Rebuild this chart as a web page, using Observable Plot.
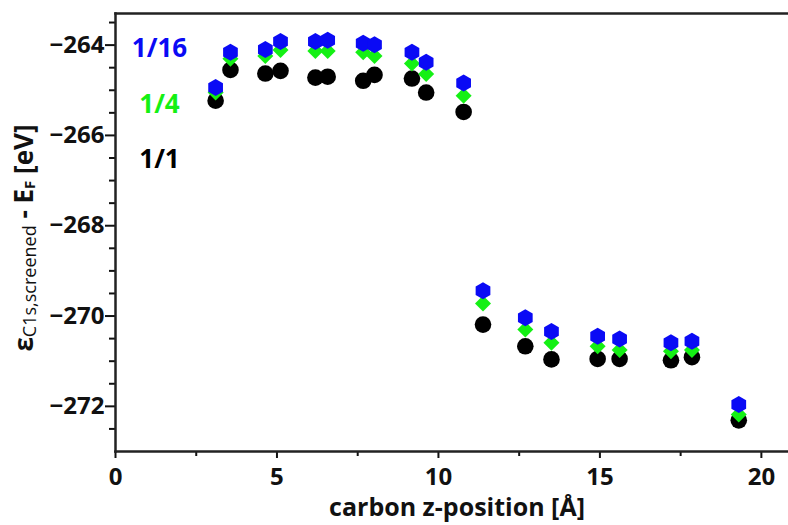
<!DOCTYPE html>
<html>
<head>
<meta charset="utf-8">
<script src="https://cdn.jsdelivr.net/npm/d3@7"></script>
<script src="https://cdn.jsdelivr.net/npm/@observablehq/plot@0.6"></script>
<style>
  html, body { margin: 0; padding: 0; background: #fff; }
  #chart { width: 788px; height: 525px; }
</style>
</head>
<body>
<div id="chart"></div>
<script>
// carbon z-position [Å]
const zPos = [3.10, 3.56, 4.64, 5.11, 6.19, 6.57, 7.67, 8.02, 9.18, 9.62, 10.78, 11.38, 12.69, 13.50, 14.93, 15.61, 17.20, 17.85, 19.30];
// screened C1s energies [eV] for the three coverages
const e11  = [-265.23, -264.55, -264.63, -264.57, -264.72, -264.70, -264.79, -264.66, -264.74, -265.05, -265.48, -270.19, -270.67, -270.96, -270.95, -270.95, -270.98, -270.91, -272.31];
const e14  = [-265.05, -264.30, -264.24, -264.11, -264.13, -264.13, -264.16, -264.24, -264.41, -264.64, -265.12, -269.72, -270.30, -270.59, -270.67, -270.75, -270.78, -270.75, -272.18];
const e116 = [-264.94, -264.16, -264.10, -263.92, -263.92, -263.89, -263.96, -263.99, -264.16, -264.38, -264.84, -269.44, -270.04, -270.34, -270.45, -270.51, -270.59, -270.56, -271.96];

const seriesNames = ["1/16", "1/4", "1/1"];
const seriesColors = ["#0a0af5", "#14f014", "#000000"];

const xMajor = [0, 5, 10, 15, 20];
const xMinor = [2.5, 7.5, 12.5, 17.5];
const yMajor = [-264, -266, -268, -270, -272];
const yMinor = [-263.5, -264.5, -265, -265.5, -266.5, -267, -267.5, -268.5, -269, -269.5, -270.5, -271, -271.5, -272.5];

const toRows = (vals) => zPos.map((z, i) => ({z, e: vals[i]}));

// custom symbols
const hexagon = {
  draw(ctx, size) {
    const r = Math.sqrt(size / Math.PI);
    for (let k = 0; k < 6; k++) {
      const a = Math.PI / 2 + k * Math.PI / 3;
      const x = r * Math.cos(a), y = -r * Math.sin(a);
      if (k === 0) ctx.moveTo(x, y); else ctx.lineTo(x, y);
    }
    ctx.closePath();
  }
};
const diamond = {
  draw(ctx, size) {
    const r = Math.sqrt(size / Math.PI);
    ctx.moveTo(0, -r);
    ctx.lineTo(r, 0);
    ctx.lineTo(0, r);
    ctx.lineTo(-r, 0);
    ctx.closePath();
  }
};

const legendRows = seriesNames.map((name, i) => ({name, color: seriesColors[i], i}));
const legendDy = [35, 91, 146];

const plot = Plot.plot({
  width: 788,
  height: 525,
  marginLeft: 115,
  marginRight: 0,
  marginTop: 13,
  marginBottom: 74,
  style: {fontFamily: "'Open Sans', sans-serif", fontWeight: "bold", fontSize: "24px", color: "#111", background: "#fff"},
  x: {domain: [0, 20.84], label: null},
  y: {domain: [-273.0, -263.3], label: null},
  marks: [
    Plot.axisX({ticks: xMinor, tickSize: 5, text: null, strokeWidth: 2}),
    Plot.axisX({ticks: xMajor, tickSize: 7, tickPadding: 9, strokeWidth: 2, fontSize: 24, tickFormat: d => d3.format("d")(d)}),
    Plot.axisY({ticks: yMinor, tickSize: 6, text: null, strokeWidth: 2}),
    Plot.axisY({ticks: yMajor, tickSize: 10, tickPadding: 1, strokeWidth: 2, fontSize: 24, tickFormat: d => d3.format("d")(d)}),
    Plot.frame({anchor: "top", strokeWidth: 2.5, stroke: "#222"}),
    Plot.frame({anchor: "left", strokeWidth: 2.5, stroke: "#222"}),
    Plot.frame({anchor: "bottom", strokeWidth: 2.5, stroke: "#222"}),
    Plot.dot(toRows(e11), {x: "z", y: "e", r: 8.3, fill: seriesColors[2], symbol: "circle"}),
    Plot.dot(toRows(e14), {x: "z", y: "e", r: 8, fill: seriesColors[1], symbol: diamond}),
    Plot.dot(toRows(e116), {x: "z", y: "e", r: 8.5, fill: seriesColors[0], symbol: hexagon}),
    ...legendRows.map(d => Plot.text([d], {
      frameAnchor: "top-left", text: "name", fill: d.color,
      dx: 44, dy: legendDy[d.i], textAnchor: "middle", lineAnchor: "middle",
      fontSize: 26, fontWeight: "bold"
    }))
  ]
});

const svg = d3.select(plot);
// x-axis title
svg.append("text")
  .attr("x", 457).attr("y", 509)
  .attr("text-anchor", "middle").attr("dominant-baseline", "middle")
  .attr("font-size", 25).attr("font-weight", "bold").attr("fill", "#111")
  .text("carbon z-position [Å]");
// y-axis title with subscripts
const yl = svg.append("text")
  .attr("transform", "translate(26,238) rotate(-90)")
  .attr("text-anchor", "middle").attr("dominant-baseline", "middle")
  .attr("font-size", 26).attr("font-weight", "bold").attr("fill", "#111");
yl.append("tspan").text("ε");
yl.append("tspan").attr("font-size", 18).attr("font-weight", "normal").attr("dy", 5).text("C1s,screened");
yl.append("tspan").attr("dy", -5).text(" - E");
yl.append("tspan").attr("font-size", 15).attr("dy", 5).text("F");
yl.append("tspan").attr("dy", -5).text(" [eV]");

document.getElementById("chart").appendChild(plot);
</script>
</body>
</html>
